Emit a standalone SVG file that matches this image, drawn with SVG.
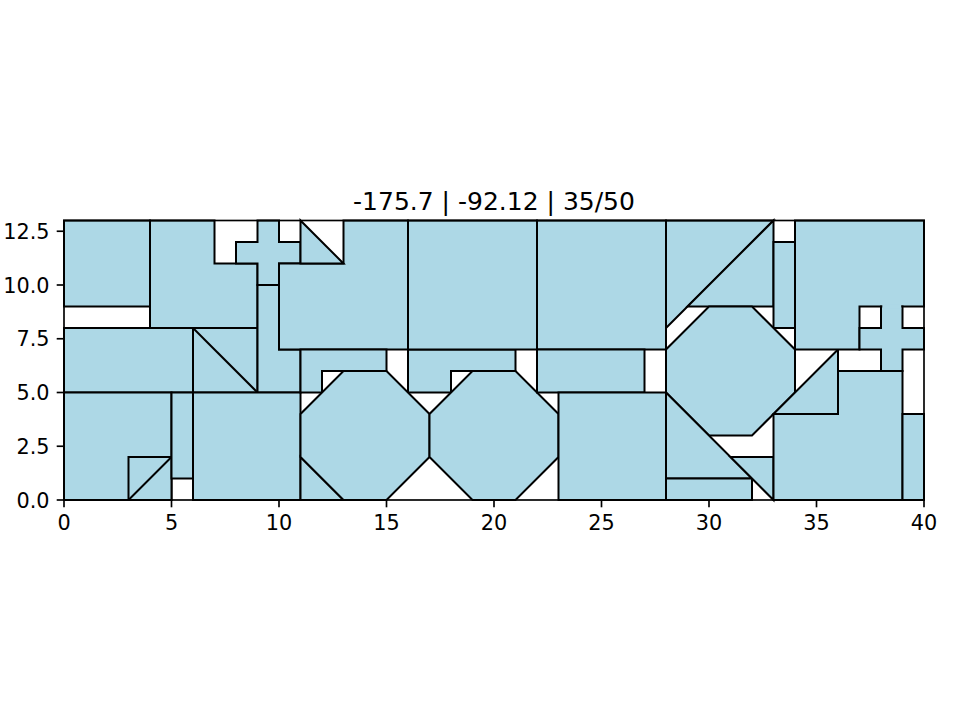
<svg xmlns="http://www.w3.org/2000/svg" width="960" height="720" viewBox="0 0 960 720">
<style>
.s{fill:#add8e6;stroke:#000;stroke-width:2;stroke-linejoin:miter;vector-effect:non-scaling-stroke}
.ln{fill:none;stroke:#000;stroke-width:2;vector-effect:non-scaling-stroke}
.cv{fill:#add8e6;stroke:none}
.tk{stroke:#000;stroke-width:1.67}
.t{font-family:"DejaVu Sans",sans-serif;font-size:20.8px;fill:#000}
</style>
<rect width="960" height="720" fill="#fff"/>
<g id="shapes" transform="translate(64,500) scale(21.5,-21.5)">
<polygon id="a" class="s" points="0,9 4,9 4,13 0,13"/>
<polygon id="b" class="s" points="4,8 9,8 9,11 7,11 7,13 4,13"/>
<polygon id="r05" class="s" points="0,5 6,5 6,8 0,8"/>
<polygon id="sq1" class="s" points="6,5 9,5 9,8 6,8"/>
<line class="ln" x1="6" y1="8" x2="9" y2="5"/>
<polygon id="d" class="s" points="9,5 11,5 11,7 10,7 10,10 9,10"/>
<polygon id="cross1" class="s" points="9,10 10,10 10,11 11,11 11,12 10,12 10,13 9,13 9,12 8,12 8,11 9,11"/>
<polygon id="c" class="s" points="10,7 16,7 16,13 13,13 13,11 10,11"/>
<polygon id="t1" class="s" points="11,11 13,11 11,13"/>
<polygon id="r00" class="s" points="0,0 5,0 5,5 0,5"/>
<polygon id="sq2" class="s" points="3,0 5,0 5,2 3,2"/>
<line class="ln" x1="3" y1="0" x2="5" y2="2"/>
<polygon id="s56" class="s" points="5,1 6,1 6,5 5,5"/>
<polygon id="r6" class="s" points="6,0 11,0 11,5 6,5"/>
<polygon id="t7" class="s" points="11,0 13,0 11,2"/>
<polygon id="l1" class="s" points="11,5 12,5 12,6 15,6 15,7 11,7"/>
<polygon id="l2" class="s" points="16,5 18,5 18,6 21,6 21,7 16,7"/>
<polygon id="o1" class="s" points="11,2 13,0 15,0 17,2 17,4 15,6 13,6 11,4"/>
<polygon id="o2" class="s" points="17,2 19,0 21,0 23,2 23,4 21,6 19,6 17,4"/>
<polygon id="top2" class="s" points="16,7 22,7 22,13 16,13"/>
<polygon id="top3" class="s" points="22,7 28,7 28,13 22,13"/>
<polygon id="r22" class="s" points="22,5 27,5 27,7 22,7"/>
<polygon id="r23" class="s" points="23,0 28,0 28,5 23,5"/>
<polygon id="t2" class="s" points="28,8 33,13 28,13"/>
<polygon id="t3" class="s" points="29,9 33,9 33,13"/>
<polygon id="s33" class="s" points="33,8 34,8 34,12 33,12"/>
<polygon id="o3" class="s" points="28,5 30,3 32,3 34,5 34,7 32,9 30,9 28,7"/>
<polygon id="t4" class="s" points="28,1 32,1 28,5"/>
<polygon id="r28" class="s" points="28,0 32,0 32,1 28,1"/>
<polygon id="t5" class="s" points="31,2 33,2 33,0"/>
<polygon id="r" class="s" points="33,0 39,0 39,6 36,6 36,4 33,4"/>
<polygon id="t6" class="s" points="33,4 36,4 36,7"/>
<polygon id="p" class="s" points="34,7 37,7 37,9 40,9 40,13 34,13"/>
<polygon id="cross2" class="s" points="37,7 38,7 38,6 39,6 39,7 40,7 40,8 39,8 39,9 38,9 38,8 37,8"/>
<rect class="cv" x="38.06" y="8.9" width="0.88" height="0.2"/>
<polygon id="r39" class="s" points="39,0 40,0 40,4 39,4"/>
</g>
<g id="axes">
<rect x="64" y="220.5" width="860" height="279.5" fill="none" stroke="#000" stroke-width="1.67"/>
<g class="tk">
<line x1="64" y1="500" x2="64" y2="507.3"/>
<line x1="171.5" y1="500" x2="171.5" y2="507.3"/>
<line x1="279" y1="500" x2="279" y2="507.3"/>
<line x1="386.5" y1="500" x2="386.5" y2="507.3"/>
<line x1="494" y1="500" x2="494" y2="507.3"/>
<line x1="601.5" y1="500" x2="601.5" y2="507.3"/>
<line x1="709" y1="500" x2="709" y2="507.3"/>
<line x1="816.5" y1="500" x2="816.5" y2="507.3"/>
<line x1="924" y1="500" x2="924" y2="507.3"/>
<line x1="56.7" y1="500" x2="64" y2="500"/>
<line x1="56.7" y1="446.25" x2="64" y2="446.25"/>
<line x1="56.7" y1="392.5" x2="64" y2="392.5"/>
<line x1="56.7" y1="338.75" x2="64" y2="338.75"/>
<line x1="56.7" y1="285" x2="64" y2="285"/>
<line x1="56.7" y1="231.25" x2="64" y2="231.25"/>
</g>
<g class="t" text-anchor="middle">
<text x="64" y="530">0</text>
<text x="171.5" y="530">5</text>
<text x="279" y="530">10</text>
<text x="386.5" y="530">15</text>
<text x="494" y="530">20</text>
<text x="601.5" y="530">25</text>
<text x="709" y="530">30</text>
<text x="816.5" y="530">35</text>
<text x="924" y="530">40</text>
</g>
<g class="t" text-anchor="end">
<text x="49.5" y="507.6">0.0</text>
<text x="49.5" y="453.85">2.5</text>
<text x="49.5" y="400.1">5.0</text>
<text x="49.5" y="346.35">7.5</text>
<text x="49.5" y="292.6">10.0</text>
<text x="49.5" y="238.85">12.5</text>
</g>
<text x="494" y="210" text-anchor="middle" style="font-family:'DejaVu Sans',sans-serif;font-size:25px">-175.7 | -92.12 | 35/50</text>
</g>
</svg>
